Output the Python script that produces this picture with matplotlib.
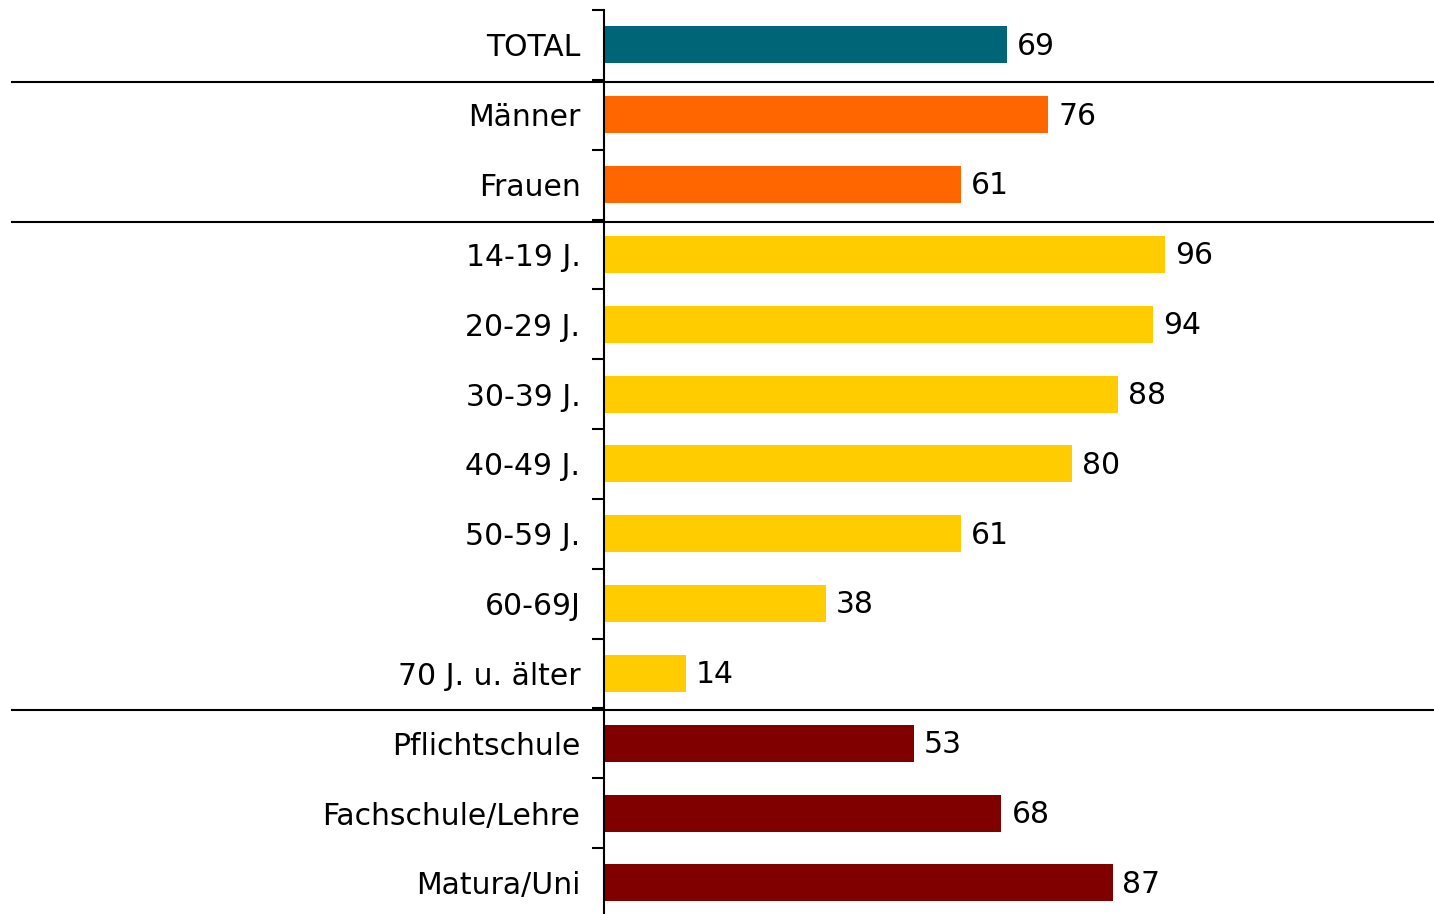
import matplotlib.pyplot as plt
from matplotlib.lines import Line2D
from matplotlib.transforms import blended_transform_factory

categories = ["TOTAL", "Männer", "Frauen", "14-19 J.", "20-29 J.", "30-39 J.",
              "40-49 J.", "50-59 J.", "60-69J", "70 J. u. älter",
              "Pflichtschule", "Fachschule/Lehre", "Matura/Uni"]
values = [69, 76, 61, 96, 94, 88, 80, 61, 38, 14, 53, 68, 87]
groups = ["total", "sex", "sex", "age", "age", "age", "age", "age", "age", "age",
          "edu", "edu", "edu"]

colors = {"total": "#006677", "sex": "#ff6600", "age": "#ffcc00", "edu": "#800000"}

fig = plt.figure(figsize=(14.34, 9.14), dpi=100)
ax = fig.add_axes([604 / 1434, 0, 1 - 604 / 1434, 1 - 10 / 914])

y = list(range(len(categories)))
ax.barh(y, values, height=0.53, color=[colors[g] for g in groups])

for yi, v in zip(y, values):
    ax.text(v + 1.7, yi + 0.02, str(v), va="center", ha="left", fontsize=21.5)

ax.set_xlim(0, 142)
ax.set_ylim(12.445, -0.5)

ax.set_yticks(y)
ax.set_yticklabels(categories, fontsize=21.5)
ax.tick_params(axis="y", which="major", length=0, pad=17)
ax.set_yticks([i - 0.5 for i in range(len(categories))], minor=True)
ax.tick_params(axis="y", which="minor", length=9, width=1.5)
ax.set_xticks([])

for s in ["top", "right", "bottom"]:
    ax.spines[s].set_visible(False)
ax.spines["left"].set_linewidth(1.5)

# group separators across the whole figure
trans = blended_transform_factory(fig.transFigure, ax.transData)
for sep in [0.5, 2.5, 9.5]:
    fig.add_artist(Line2D([12 / 1434, 1], [sep + 0.03, sep + 0.03], transform=trans,
                          color="black", linewidth=1.5))

fig.savefig("out.png", dpi=100)
